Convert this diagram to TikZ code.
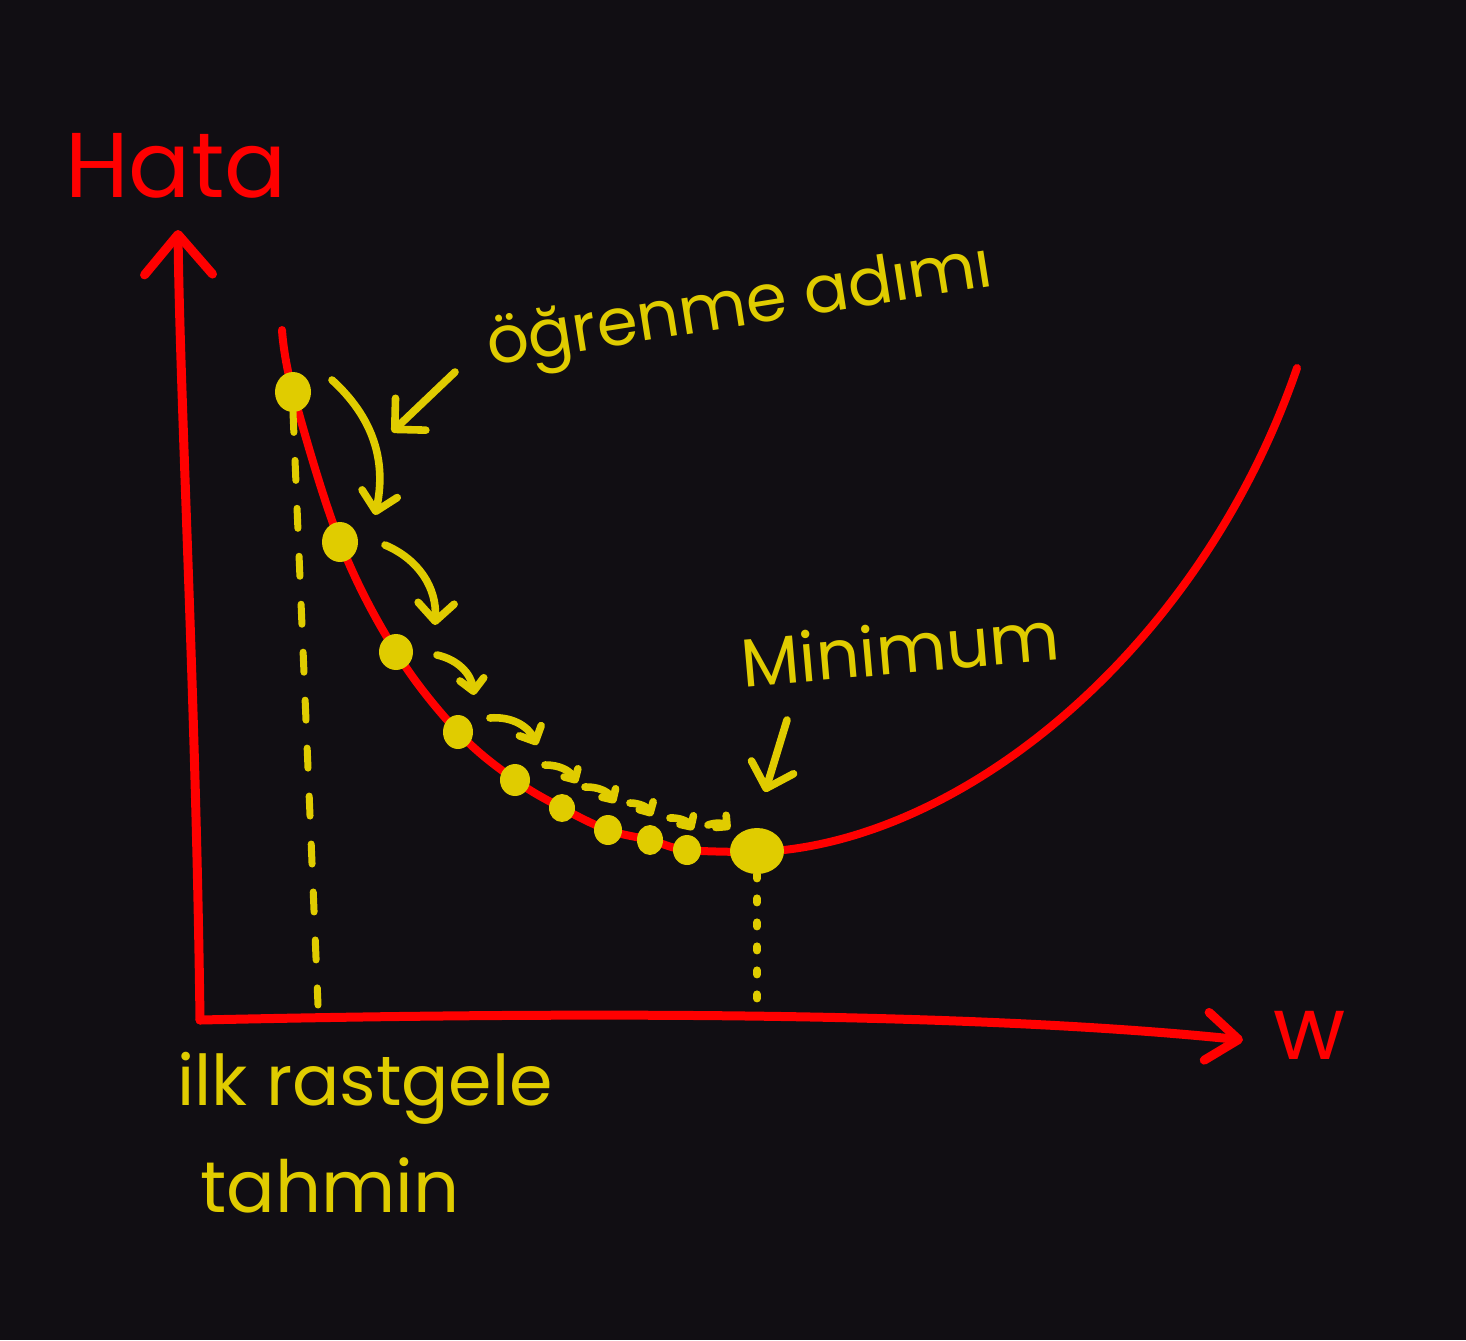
\documentclass[tikz,border=0pt]{standalone}
\usepackage{fontspec}
\setmainfont{Poppins}
\usepackage{xcolor}
\usetikzlibrary{arrows.meta,shapes.geometric}
\definecolor{board}{RGB}{17,14,19}
\definecolor{chalkyellow}{RGB}{224,204,0}
\definecolor{chalkred}{RGB}{255,0,0}
\tikzset{
  axis/.style={chalkred,line width=4.5pt,line cap=round,line join=round},
  curve/.style={chalkred,line width=4pt,line cap=round},
  dot/.style={ellipse,fill=chalkyellow,inner sep=0pt},
  guide/.style={chalkyellow,line width=3.5pt,line cap=round},
  stepline/.style={chalkyellow,line width=3.8pt,line cap=round,line join=round},
  bigtip/.style={-{Straight Barb[length=9pt,width=18pt,round]}},
  smalltip/.style={-{Straight Barb[length=4pt,width=8pt,round]}},
  hand/.style={chalkyellow,inner sep=0pt},
}

\begin{document}
\begin{tikzpicture}[x=0.5pt,y=-0.5pt]
  \fill[board] (0,0) rectangle (1466,1340);
  \useasboundingbox (0,0) rectangle (1466,1340);
  \coordinate (o) at (200,1020);
  \coordinate (ytop) at (178,230);
  \coordinate (xend) at (1243,1040);
  \draw[axis,-{Straight Barb[length=20pt,width=34pt,round]}] (o) .. controls (196,700) and (180,400) .. (ytop);
  \draw[axis,-{Straight Barb[length=16pt,width=24pt,round]}] (o) .. controls (650,1010) and (1000,1015) .. (xend);
  \node[chalkred,inner sep=0pt,font=\fontsize{46}{46}\selectfont] (hata) at (176,166) {Hata};
  \node[chalkred,inner sep=0pt,font=\fontsize{44}{44}\selectfont] (w) at (1310,1035) {w};

  \draw[curve] plot[smooth,tension=0.6] coordinates {(282,330) (293,392) (340,542) (396,652) (458,732)
    (515,780) (562,808) (608,830) (650,840) (687,850) (757,852)}
    .. controls (960,845) and (1200,650) .. (1297,368);

  \foreach \n/\x/\y/\w/\h in {1/293/392/36/40, 2/340/542/36/40, 3/396/652/34/36, 4/458/732/30/34,
    5/515/780/30/32, 6/562/808/26/28, 7/608/830/28/30, 8/650/840/26/30, 9/687/850/28/30} {
    \node[dot,minimum width=\w*0.5pt,minimum height=\h*0.5pt] (d\n) at (\x,\y) {};
  }
  \node[dot,minimum width=27pt,minimum height=23pt] (dmin) at (757,851) {};

  \coordinate (g1) at (318,1005);
  \coordinate (g2) at (757,1002);
  \draw[guide,dash pattern=on 10pt off 14pt] (d1.south) -- (g1);
  \draw[guide,line width=4pt,dash pattern=on 2pt off 10pt] (dmin.south) -- (g2);

  \draw[stepline,bigtip] ([shift={(39,-12)}]d1.center) to[bend left=30] ([shift={(35,-27)}]d2.center);
  \draw[stepline,bigtip] ([shift={(45,3)}]d2.center) to[bend left=35] ([shift={(39,-27)}]d3.center);
  \foreach \a/\b/\sx/\sy/\ex/\ey in {d3/d4/41/3/16/-37, d4/d5/32/-14/22/-35} {
    \draw[stepline,-{Straight Barb[length=6pt,width=12pt,round]}] ([shift={(\sx,\sy)}]\a.center) to[bend left=35] ([shift={(\ex,\ey)}]\b.center);
  }
  \foreach \a/\b/\sx/\sy/\ex/\ey in {d5/d6/30/-15/15/-25, d6/d7/23/-21/7/-27, d7/d8/22/-27/2/-24,
    d8/d9/20/-22/6/-20, d9/dmin/21/-25/-27/-22} {
    \draw[stepline,smalltip] ([shift={(\sx,\sy)}]\a.center) to[bend left=30] ([shift={(\ex,\ey)}]\b.center);
  }

  \node[hand,rotate=9,font=\fontsize{33}{33}\selectfont] (lr) at (740,310) {öğrenme adımı};
  \coordinate (lrStart) at (455,372);
  \coordinate (lrTip) at (392,432);
  \draw[stepline,-{Straight Barb[length=11pt,width=22pt,round]}] (lrStart) -- (lrTip);

  \node[hand,rotate=5,font=\fontsize{34}{34}\selectfont] (minlbl) at (900,648) {Minimum};
  \coordinate (minStart) at (787,720);
  \coordinate (minTip) at (765,792);
  \draw[stepline,-{Straight Barb[length=11pt,width=22pt,round]}] (minStart) -- (minTip);

  \node[hand,font=\fontsize{35}{35}\selectfont] (guess1) at (365,1088) {ilk rastgele};
  \node[hand,font=\fontsize{36}{36}\selectfont] (guess2) at (330,1185) {tahmin};
\end{tikzpicture}
\end{document}
